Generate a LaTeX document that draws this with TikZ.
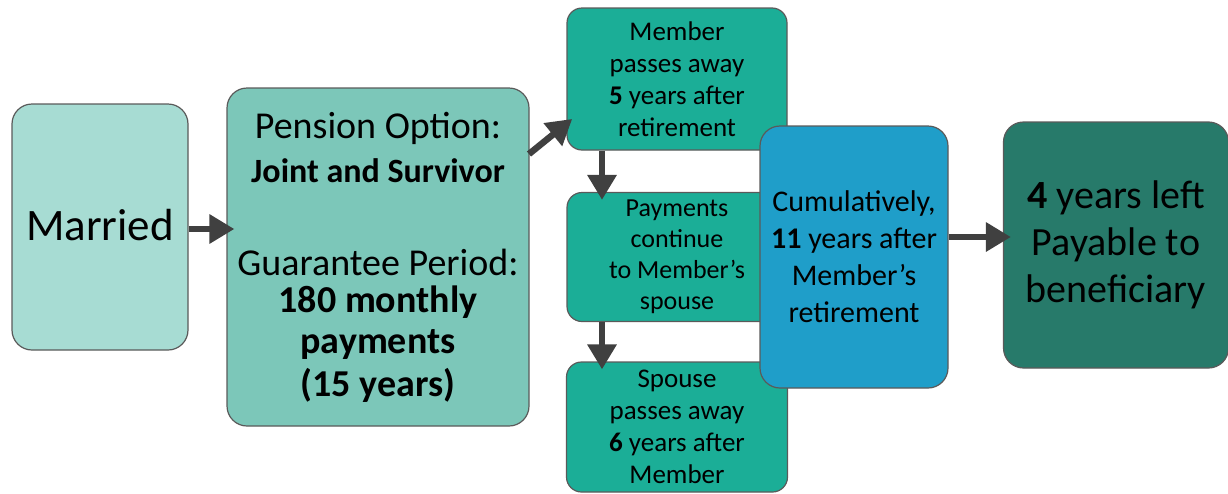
\documentclass[tikz,border=0pt]{standalone}
\usepackage{fontspec}
\setmainfont{Carlito}
\usetikzlibrary{arrows.meta}
\definecolor{cmarried}{HTML}{A7DCD3}
\definecolor{cpension}{HTML}{7CC7B9}
\definecolor{cteal}{HTML}{1BAE97}
\definecolor{cblue}{HTML}{1F9EC9}
\definecolor{cdark}{HTML}{277A6A}
\definecolor{cborder}{HTML}{5A5A5A}
\definecolor{carrow}{HTML}{404040}
\tikzset{
  box/.style={draw=cborder, line width=1.2pt, rounded corners=20pt, align=center, inner sep=0pt, text=black},
  smallbox/.style={box, rounded corners=15pt},
  flow/.style={draw=carrow, line width=6.5pt, -{Triangle[length=25pt,width=28pt]}, shorten >=-8pt},
}
\begin{document}
\begin{tikzpicture}[x=1pt,y=-1pt]
\useasboundingbox (0,0) rectangle (1228,493);
% boxes
\node[box, fill=cmarried, minimum width=176pt, minimum height=246pt,
  font=\fontsize{45}{50}\selectfont] (married) at (100,227) {\raisebox{4pt}{Married}};
\node[box, fill=cpension, minimum width=302pt, minimum height=338pt,
  font=\fontsize{38}{41}\selectfont] (pension) at (378,257)
  {\raisebox{3pt}{Pension Option:}\\ {\bfseries\fontsize{34}{41}\selectfont Joint and Survivor}\\[52pt] Guarantee Period:\\[-4pt] \textbf{180 monthly}\\ \textbf{payments}\\[2pt] \textbf{(15 years)}};
\node[smallbox, fill=cteal, minimum width=220pt, minimum height=142pt,
  font=\fontsize{27}{32}\selectfont] (member) at (677,79)
  {Member\\ passes away\\ \textbf{5} years after\\ retirement};
\node[smallbox, fill=cteal, minimum width=220pt, minimum height=129pt,
  font=\fontsize{26}{31}\selectfont] (payments) at (677,257)
  {Payments\\ continue\\ to Member's\\ spouse};
\node[smallbox, fill=cteal, minimum width=221pt, minimum height=130pt,
  font=\fontsize{27}{32}\selectfont] (spouse) at (677,427)
  {Spouse\\ passes away\\ \textbf{6} years after\\ Member};
\node[box, fill=cblue, minimum width=188pt, minimum height=262pt,
  font=\fontsize{30}{37}\selectfont] (cumul) at (854,257)
  {Cumulatively,\\ \textbf{11} years after\\ Member's\\ retirement};
\node[box, fill=cdark, minimum width=225pt, minimum height=246pt,
  font=\fontsize{40}{47}\selectfont] (left) at (1116,245)
  {\textbf{4} years left\\ Payable to\\ beneficiary};
% arrows
\draw[flow] (married.east |- 0,229) -- (pension.west |- 0,229);
\coordinate (pa) at (529,154);
\coordinate (pb) at (566,124);
\draw[flow] (pa) -- (pb);
\draw[flow] (member.south -| 602,0) -- (payments.north -| 602,0);
\draw[flow] (payments.south -| 602,0) -- (spouse.north -| 602,0);
\draw[flow] (cumul.east |- 0,237) -- (left.west |- 0,237);
\end{tikzpicture}
\end{document}
